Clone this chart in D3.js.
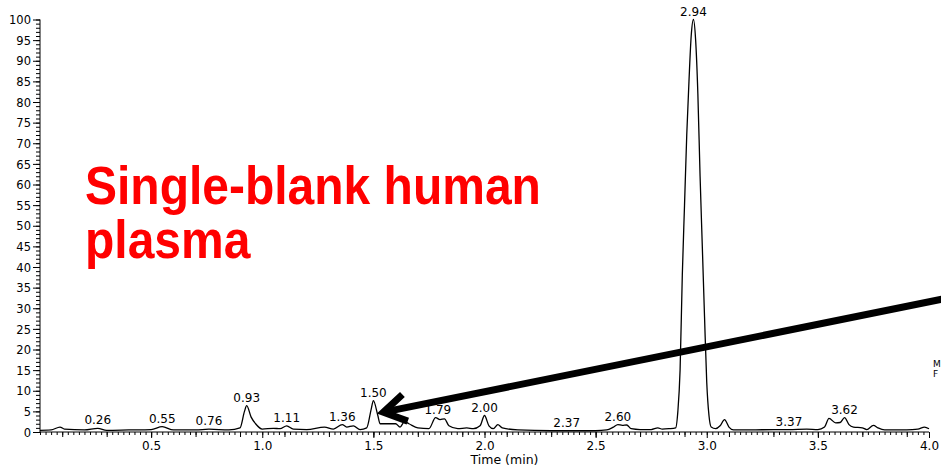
<!DOCTYPE html>
<html>
<head>
<meta charset="utf-8">
<script src="https://cdn.jsdelivr.net/npm/d3@7"></script>
<style>
  body { margin: 0; background: #fff; }
  svg { display: block; }
  .tick text { font-family: "DejaVu Sans", sans-serif; }
</style>
</head>
<body>
<script>
//chromatogram trace: retention time (min) and relative abundance (%)
var times = [0.00, 0.05, 0.09, 0.11, 0.20, 0.26, 0.30, 0.40, 0.50, 0.55, 0.60, 0.70, 0.76, 0.85, 0.90, 0.92, 0.93, 0.95, 0.97, 1.00,
  1.05, 1.08, 1.11, 1.14, 1.20, 1.28, 1.32, 1.36, 1.38, 1.41, 1.44, 1.47, 1.49, 1.50, 1.52, 1.53, 1.57, 1.60, 1.62, 1.64,
  1.66, 1.70, 1.75, 1.78, 1.80, 1.82, 1.84, 1.88, 1.92, 1.95, 1.98, 2.00, 2.02, 2.04, 2.06, 2.08, 2.15, 2.30, 2.37, 2.50,
  2.55, 2.58, 2.60, 2.62, 2.64, 2.66, 2.70, 2.75, 2.78, 2.80, 2.83, 2.86, 2.87, 2.88, 2.89, 2.90, 2.91, 2.92, 2.93, 2.94,
  2.95, 2.96, 2.97, 2.98, 2.99, 3.00, 3.01, 3.02, 3.04, 3.06, 3.08, 3.10, 3.12, 3.20, 3.30, 3.37, 3.45, 3.50, 3.53, 3.55,
  3.58, 3.60, 3.62, 3.64, 3.66, 3.70, 3.72, 3.75, 3.77, 3.80, 3.90, 3.95, 3.98, 4.00];
var abundance = [0.4, 0.5, 1.2, 0.7, 0.5, 0.9, 0.4, 0.5, 0.6, 1.3, 0.5, 0.5, 0.7, 0.5, 1.0, 5.0, 6.4, 3.6, 2.0, 0.7,
  0.9, 0.8, 1.5, 0.7, 0.6, 1.2, 0.7, 1.8, 1.2, 1.5, 0.6, 1.0, 5.5, 7.6, 4.0, 2.0, 2.0, 2.0, 1.2, 2.5,
  2.0, 1.0, 0.8, 3.5, 3.0, 3.2, 1.5, 0.8, 1.0, 0.8, 1.5, 4.0, 1.5, 0.8, 1.8, 1.0, 0.5, 0.3, 0.3, 0.3,
  0.5, 1.2, 1.8, 1.6, 1.7, 0.8, 0.6, 0.6, 1.0, 0.7, 0.8, 1.0, 5, 15, 38, 55, 72, 85, 96, 100,
  95, 82, 62, 45, 28, 12, 4, 1.2, 0.8, 1.5, 3.0, 1.2, 0.5, 0.5, 0.6, 0.6, 0.7, 0.6, 1.2, 3.3,
  2.2, 2.3, 3.5, 1.8, 1.2, 1.0, 0.6, 1.6, 1.0, 0.5, 0.5, 0.7, 1.2, 0.8];

//labelled peaks
var peakLabels = ["0.26", "0.55", "0.76", "0.93", "1.11", "1.36", "1.50", "1.79", "2.00", "2.37", "2.60", "2.94", "3.37", "3.62"];
var peakTimes = [0.26, 0.55, 0.76, 0.93, 1.11, 1.36, 1.50, 1.79, 2.00, 2.37, 2.60, 2.94, 3.37, 3.62];
var peakHeights = [0.9, 1.3, 0.7, 6.4, 1.5, 1.8, 7.6, 3.5, 4.0, 0.3, 1.8, 100, 0.6, 3.5];

//axis ticks
var xTickLabels = ["0.5", "1.0", "1.5", "2.0", "2.5", "3.0", "3.5", "4.0"];
var xTickValues = [0.5, 1.0, 1.5, 2.0, 2.5, 3.0, 3.5, 4.0];
var yTickValues = d3.range(0, 101, 5);

//annotation
var titleLines = ["Single-blank human", "plasma"];
var arrowFrom = [4.06, 32.2];
var arrowTo = [1.545, 4.8];

window.onload = drawChart();

function drawChart(){
  var width = 941, height = 469;

  var svg = d3.select("body")
    .append("svg")
    .attr("width", width)
    .attr("height", height);

  var x = d3.scaleLinear().domain([0, 4]).range([40, 929]);
  var y = d3.scaleLinear().domain([0, 100]).range([432, 19.5]);

  //y axis: minor ticks every 1, labelled every 5
  svg.append("g")
    .attr("transform", "translate(" + x(0) + ",0)")
    .call(d3.axisLeft(y).tickValues(d3.range(0, 101, 1)).tickSize(4).tickFormat(""))
    .call(function(g){ g.select(".domain").remove(); });

  svg.append("g")
    .attr("transform", "translate(" + x(0) + ",0)")
    .call(d3.axisLeft(y).tickValues(yTickValues).tickSize(7).tickPadding(2).tickFormat(d3.format("d")))
    .call(function(g){
      g.selectAll("text").attr("font-size", 11.5).attr("fill", "#000").attr("dy", "0.36em");
      g.select(".domain").attr("d", "M0," + y(0) + "V" + y(100));
    });

  //x axis: minor ticks, medium ticks, labelled ticks
  svg.append("g")
    .attr("transform", "translate(0," + y(0) + ")")
    .call(d3.axisBottom(x).tickValues(d3.range(0, 4.001, 0.025)).tickSize(3).tickFormat(""))
    .call(function(g){ g.select(".domain").remove(); });

  svg.append("g")
    .attr("transform", "translate(0," + y(0) + ")")
    .call(d3.axisBottom(x).tickValues(d3.range(0.1, 4, 0.2)).tickSize(5).tickFormat(""))
    .call(function(g){ g.select(".domain").remove(); });

  svg.append("g")
    .attr("transform", "translate(0," + y(0) + ")")
    .call(d3.axisBottom(x).tickValues(xTickValues).tickSize(6).tickPadding(3)
      .tickFormat(function(d, i){ return xTickLabels[i]; }))
    .call(function(g){
      g.selectAll("text").attr("font-size", 12).attr("fill", "#000");
      g.select(".domain").attr("d", "M" + x(0) + ",0H" + x(4));
    });

  svg.append("text")
    .attr("x", (x(0) + x(4)) / 2 + 20)
    .attr("y", 464)
    .attr("text-anchor", "middle")
    .attr("font-family", "DejaVu Sans, sans-serif")
    .attr("font-size", 12.5)
    .text("Time (min)");

  //trace
  var trace = times.map(function(t, i){ return [t, abundance[i]]; });
  var line = d3.line()
    .x(function(d){ return x(d[0]); })
    .y(function(d){ return y(d[1]); })
    .curve(d3.curveMonotoneX);

  svg.append("path")
    .datum(trace)
    .attr("fill", "none")
    .attr("stroke", "#000")
    .attr("stroke-width", 1.3)
    .attr("d", line);

  //peak labels
  svg.selectAll(".peakLabel")
    .data(peakLabels)
    .enter()
    .append("text")
    .attr("class", "peakLabel")
    .attr("x", function(d, i){ return x(peakTimes[i]); })
    .attr("y", function(d, i){ return y(peakHeights[i]) - 4; })
    .attr("text-anchor", "middle")
    .attr("font-family", "DejaVu Sans, sans-serif")
    .attr("font-size", 12)
    .text(function(d){ return d; });

  //title, glyphs a little taller than wide as in the original
  svg.append("text")
    .attr("transform", "translate(85,204) scale(1,1.1)")
    .attr("font-family", "Liberation Sans, Arial, sans-serif")
    .attr("font-weight", "bold")
    .attr("font-size", 48)
    .attr("fill", "#ff0000")
    .selectAll("tspan")
    .data(titleLines)
    .enter()
    .append("tspan")
    .attr("x", 0)
    .attr("y", function(d, i){ return i * 49; })
    .text(function(d){ return d; });

  //arrow pointing at the 1.50 peak
  var x1 = x(arrowFrom[0]), y1 = y(arrowFrom[1]),
      x2 = x(arrowTo[0]), y2 = y(arrowTo[1]);
  var ang = Math.atan2(y1 - y2, x1 - x2);
  var headLen = 26, spread = 0.55;
  svg.append("line")
    .attr("x1", x1).attr("y1", y1)
    .attr("x2", x2 + 4 * Math.cos(ang)).attr("y2", y2 + 4 * Math.sin(ang))
    .attr("stroke", "#000")
    .attr("stroke-width", 7);
  svg.append("path")
    .attr("d", "M" + (x2 + headLen * Math.cos(ang - spread)) + "," + (y2 + headLen * Math.sin(ang - spread)) +
      "L" + x2 + "," + y2 +
      "L" + (x2 + headLen * Math.cos(ang + spread)) + "," + (y2 + headLen * Math.sin(ang + spread)))
    .attr("fill", "none")
    .attr("stroke", "#000")
    .attr("stroke-width", 7)
    .attr("stroke-linejoin", "miter");

  //clipped side text at right edge
  svg.append("text")
    .attr("x", 933).attr("y", 367)
    .attr("font-family", "DejaVu Sans, sans-serif")
    .attr("font-size", 9)
    .text("M");
  svg.append("text")
    .attr("x", 933).attr("y", 377)
    .attr("font-family", "DejaVu Sans, sans-serif")
    .attr("font-size", 9)
    .text("F");
}
</script>
</body>
</html>
